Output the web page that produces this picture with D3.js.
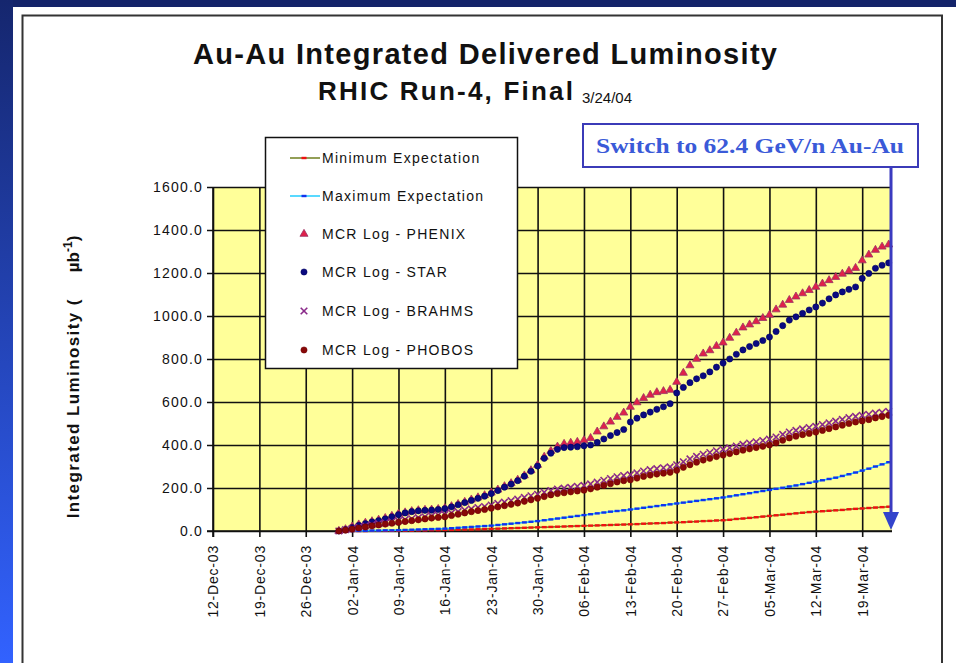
<!DOCTYPE html>
<html>
<head>
<meta charset="utf-8">
<script src="https://cdn.jsdelivr.net/npm/d3@7"></script>
<style>
body { margin: 0; overflow: hidden; background: #fff; }
text { font-family: "Liberation Sans", Arial, sans-serif; }
</style>
</head>
<body>
<div id="chart"></div>
<script>
// chart data, one value per day starting 31-Dec-03
var firstDay = "2003-12-31";
var tickDates = ["2003-12-12", "2003-12-19", "2003-12-26", "2004-01-02", "2004-01-09", "2004-01-16",
    "2004-01-23", "2004-01-30", "2004-02-06", "2004-02-13", "2004-02-20", "2004-02-27",
    "2004-03-05", "2004-03-12", "2004-03-19"];
var yTicks = [0, 200, 400, 600, 800, 1000, 1200, 1400, 1600];

var minExpectation = [0, 0, 0, 0, 0, 1, 1, 1, 1, 2, 2, 2, 3, 3, 4, 4, 5, 5, 6, 7,
    7, 8, 9, 10, 11, 12, 13, 14, 15, 16, 17, 18, 19, 20, 21, 22, 23, 24, 25, 26,
    27, 28, 29, 30, 31, 32, 34, 35, 36, 37, 39, 40, 41, 43, 44, 46, 47, 49, 50, 52,
    56, 58, 61, 64, 67, 70, 73, 76, 79, 82, 85, 88, 90, 92, 94, 96, 98, 101, 103, 105,
    107, 109, 111, 113];
var maxExpectation = [0, 0, 0, 1, 1, 2, 2, 3, 3, 4, 5, 6, 7, 8, 9, 10, 11, 13, 15, 17,
    19, 21, 23, 25, 28, 31, 34, 37, 40, 43, 46, 50, 54, 58, 62, 66, 70, 74, 78, 82,
    86, 90, 93, 96, 100, 104, 108, 112, 116, 120, 124, 128, 132, 136, 140, 144, 148, 152, 156, 161,
    166, 171, 176, 181, 186, 191, 196, 201, 207, 212, 218, 224, 230, 236, 242, 248, 256, 264, 272, 281,
    290, 300, 310, 320];
var phenix = [0, 8, 20, 30, 38, 45, 52, 60, 70, 80, 86, 92, 96, 98, 99, 102, 106, 115, 125, 135,
    146, 156, 166, 178, 192, 208, 222, 238, 258, 282, 307, 345, 372, 392, 405, 410, 414, 422, 432, 462,
    486, 508, 530, 550, 577, 598, 618, 633, 645, 650, 656, 693, 735, 770, 800, 825, 840, 860, 876, 898,
    922, 946, 960, 975, 990, 1005, 1030, 1052, 1074, 1090, 1105, 1120, 1135, 1150, 1166, 1181, 1196, 1210, 1223, 1258,
    1285, 1307, 1322, 1332];
var star = [0, 6, 16, 26, 34, 42, 48, 56, 66, 76, 84, 90, 94, 96, 97, 100, 104, 112, 122, 132,
    142, 152, 162, 174, 188, 204, 218, 234, 255, 278, 302, 338, 362, 380, 388, 390, 392, 396, 400, 412,
    428, 444, 458, 472, 507, 525, 540, 553, 566, 578, 592, 642, 668, 690, 708, 722, 740, 762, 781, 800,
    822, 842, 858, 872, 886, 902, 928, 955, 981, 996, 1012, 1028, 1042, 1060, 1080, 1098, 1112, 1124, 1135, 1175,
    1198, 1222, 1236, 1247];
var brahms = [0, 6, 12, 18, 24, 29, 34, 38, 43, 48, 53, 57, 62, 66, 70, 74, 77, 84, 90, 97,
    103, 109, 114, 121, 128, 134, 141, 148, 156, 164, 171, 180, 188, 195, 199, 203, 208, 212, 219, 227,
    236, 244, 252, 258, 262, 270, 279, 285, 290, 294, 298, 308, 322, 335, 347, 357, 365, 373, 380, 387,
    395, 403, 409, 415, 421, 427, 437, 449, 460, 468, 475, 481, 487, 495, 503, 511, 519, 527, 533, 538,
    543, 548, 552, 556];
var phobos = [0, 4, 9, 14, 19, 24, 28, 32, 36, 40, 44, 48, 52, 56, 60, 63, 66, 72, 78, 84,
    90, 95, 100, 106, 112, 118, 124, 130, 138, 145, 152, 160, 168, 174, 178, 182, 186, 190, 196, 204,
    212, 220, 228, 234, 238, 246, 254, 260, 265, 269, 273, 282, 296, 308, 320, 330, 338, 346, 353, 360,
    368, 376, 382, 388, 394, 400, 410, 422, 433, 441, 448, 454, 460, 468, 476, 484, 492, 500, 507, 512,
    518, 526, 532, 538];

var seriesNames = ["Minimum Expectation", "Maximum Expectation", "MCR Log - PHENIX",
    "MCR Log - STAR", "MCR Log - BRAHMS", "MCR Log - PHOBOS"];

var svgWidth = 956;
var svgHeight = 663;
var plot = { left: 213, top: 187, right: 892, bottom: 531 };

var parseDate = d3.timeParse("%Y-%m-%d");
var fmt = d3.timeFormat("%d-%b-%y");

var svg = d3.select("#chart").append("svg")
    .attr("width", svgWidth)
    .attr("height", svgHeight);

// slide background
var defs = svg.append("defs");
var grad = defs.append("linearGradient").attr("id", "side")
    .attr("x1", 0).attr("y1", 0).attr("x2", 0).attr("y2", 1);
grad.append("stop").attr("offset", "0%").attr("stop-color", "#15266e");
grad.append("stop").attr("offset", "100%").attr("stop-color", "#3262ff");

svg.append("rect").attr("width", svgWidth).attr("height", svgHeight).attr("fill", "#14246a");
svg.append("rect").attr("width", 13).attr("height", svgHeight).attr("fill", "url(#side)");
svg.append("rect").attr("x", 13).attr("y", 7).attr("width", svgWidth - 13).attr("height", svgHeight)
    .attr("fill", "#fff");
svg.append("rect").attr("x", 22.5).attr("y", 15.5).attr("width", 919.5).attr("height", 700)
    .attr("fill", "none").attr("stroke", "#333").attr("stroke-width", 2);

// titles
svg.append("text")
    .attr("x", 485).attr("y", 64)
    .attr("text-anchor", "middle")
    .attr("font-size", 29).attr("font-weight", "bold")
    .attr("textLength", 584).attr("lengthAdjust", "spacing")
    .attr("fill", "#111")
    .text("Au-Au Integrated Delivered Luminosity");
svg.append("text")
    .attr("x", 318).attr("y", 100)
    .attr("font-size", 26).attr("font-weight", "bold")
    .attr("textLength", 255).attr("lengthAdjust", "spacing")
    .attr("fill", "#111")
    .text("RHIC Run-4, Final");
svg.append("text")
    .attr("x", 582).attr("y", 103)
    .attr("font-size", 15)
    .attr("fill", "#111")
    .text("3/24/04");

// scales
var xScale = d3.scaleTime()
    .domain([parseDate("2003-12-12"), new Date(2004, 2, 23, 12)])
    .range([plot.left, plot.right]);
var yScale = d3.scaleLinear()
    .domain([0, 1600])
    .range([plot.bottom, plot.top]);

// plot area
svg.append("rect")
    .attr("x", plot.left).attr("y", plot.top)
    .attr("width", plot.right - plot.left).attr("height", plot.bottom - plot.top)
    .attr("fill", "#ffff99");

var tickVals = tickDates.map(parseDate);

// y axis with gridlines
var yAxis = svg.append("g")
    .attr("transform", `translate(${plot.left}, 0)`)
    .call(d3.axisLeft(yScale).tickValues(yTicks).tickFormat(d3.format(".1f"))
        .tickSizeInner(-(plot.right - plot.left)).tickSizeOuter(0).tickPadding(10));
yAxis.select(".domain").remove();
yAxis.selectAll(".tick line").attr("stroke", "#111").attr("stroke-width", 1.6).attr("x1", -6);
yAxis.selectAll(".tick text")
    .attr("font-size", 14).attr("letter-spacing", 1.2).attr("fill", "#111");

// x axis with gridlines
var xAxis = svg.append("g")
    .attr("transform", `translate(0, ${plot.bottom})`)
    .call(d3.axisBottom(xScale).tickValues(tickVals).tickFormat(fmt)
        .tickSizeInner(-(plot.bottom - plot.top)).tickSizeOuter(0));
xAxis.select(".domain").remove();
xAxis.selectAll(".tick line").attr("stroke", "#111").attr("stroke-width", 1.6).attr("y1", 6);
xAxis.selectAll(".tick text")
    .attr("font-size", 14).attr("letter-spacing", 0.8).attr("fill", "#111")
    .attr("text-anchor", "end")
    .attr("dy", "0.35em")
    .attr("transform", "translate(0, 14) rotate(-90)")
    .attr("x", 0).attr("y", 0);

// axis lines
svg.append("line").attr("x1", plot.left).attr("x2", plot.left)
    .attr("y1", plot.top).attr("y2", plot.bottom + 6).attr("stroke", "#111").attr("stroke-width", 1.6);
svg.append("line").attr("x1", plot.left - 6).attr("x2", plot.right)
    .attr("y1", plot.bottom).attr("y2", plot.bottom).attr("stroke", "#111").attr("stroke-width", 1.6);

// y axis title
var yTitle = svg.append("text")
    .attr("transform", "translate(79, 377) rotate(-90)")
    .attr("text-anchor", "middle")
    .attr("font-size", 17).attr("font-weight", "bold").attr("fill", "#111");
yTitle.append("tspan").attr("letter-spacing", 1.4).text("Integrated Luminosity (");
yTitle.append("tspan").attr("dx", 26).text("\u00b5b");
yTitle.append("tspan").attr("dy", -7).attr("font-size", 12).text("-1");
yTitle.append("tspan").attr("dy", 7).text(")");

// series
var start = parseDate(firstDay);
function toPoints(values) {
    return values.map(function(v, i) {
        return { date: d3.timeDay.offset(start, i), value: v };
    });
}
var line = d3.line().x(d => xScale(d.date)).y(d => yScale(d.value));

var series = [
    { name: seriesNames[0], data: toPoints(minExpectation), line: "#6f7f1f", marker: "dash", color: "#ee1111" },
    { name: seriesNames[1], data: toPoints(maxExpectation), line: "#22ccff", marker: "dash", color: "#1133ee" },
    { name: seriesNames[2], data: toPoints(phenix), line: null, marker: "triangle", color: "#e0204a", edge: "#993366" },
    { name: seriesNames[3], data: toPoints(star), line: null, marker: "circle", color: "#0a0a80", edge: "#000060" },
    { name: seriesNames[4], data: toPoints(brahms), line: null, marker: "x", color: "#8a2a8a" },
    { name: seriesNames[5], data: toPoints(phobos), line: null, marker: "circle", color: "#880808", edge: "#700000" }
];

function drawMarker(g, s, x, y) {
    if (s.marker === "dash") {
        g.append("rect").attr("x", x - 2.5).attr("y", y - 1.2).attr("width", 5).attr("height", 2.4)
            .attr("fill", s.color);
    } else if (s.marker === "triangle") {
        g.append("path").attr("d", d3.symbol(d3.symbolTriangle, 28)())
            .attr("transform", `translate(${x}, ${y})`)
            .attr("fill", s.color).attr("stroke", s.edge).attr("stroke-width", 0.8);
    } else if (s.marker === "circle") {
        g.append("circle").attr("cx", x).attr("cy", y).attr("r", 3.1)
            .attr("fill", s.color).attr("stroke", s.edge).attr("stroke-width", 0.6);
    } else if (s.marker === "x") {
        g.append("path").attr("d", d3.symbol(d3.symbolX, 30)())
            .attr("transform", `translate(${x}, ${y})`)
            .attr("fill", "none").attr("stroke", s.color).attr("stroke-width", 1.6);
    }
}

var seriesGroup = svg.append("g");
series.forEach(function(s) {
    var g = seriesGroup.append("g");
    if (s.line) {
        g.append("path").datum(s.data)
            .attr("d", line)
            .attr("fill", "none").attr("stroke", s.line).attr("stroke-width", 1.5);
    }
    s.data.forEach(function(d) {
        drawMarker(g, s, xScale(d.date), yScale(d.value));
    });
});

// legend
var legend = svg.append("g");
legend.append("rect")
    .attr("x", 265.5).attr("y", 137.5).attr("width", 252).attr("height", 231)
    .attr("fill", "#fff").attr("stroke", "#111").attr("stroke-width", 1.5);
var legendY = [158, 196, 234, 272, 311, 350];
series.forEach(function(s, i) {
    var y = legendY[i];
    if (s.line) {
        legend.append("line").attr("x1", 290).attr("x2", 320).attr("y1", y).attr("y2", y)
            .attr("stroke", s.line).attr("stroke-width", 1.5);
    }
    drawMarker(legend, s, 304, y);
    legend.append("text")
        .attr("x", 322).attr("y", y + 5)
        .attr("font-size", 14).attr("letter-spacing", 1.3).attr("fill", "#111")
        .text(s.name);
});

// annotation: switch to 62.4 GeV
var ann = svg.append("g");
ann.append("rect")
    .attr("x", 583).attr("y", 124).attr("width", 335).attr("height", 43)
    .attr("fill", "#fff").attr("stroke", "#3b3bb8").attr("stroke-width", 2);
ann.append("text")
    .attr("x", 750).attr("y", 153)
    .attr("text-anchor", "middle")
    .style("font-family", "'Liberation Serif', 'DejaVu Serif', serif")
    .attr("font-size", 21).attr("font-weight", "bold")
    .attr("textLength", 308).attr("lengthAdjust", "spacingAndGlyphs")
    .attr("fill", "#3a5ad8")
    .text("Switch to 62.4 GeV/n Au-Au");
ann.append("line")
    .attr("x1", 891).attr("x2", 891).attr("y1", 167).attr("y2", 516)
    .attr("stroke", "#3b3bc0").attr("stroke-width", 3);
ann.append("path")
    .attr("d", "M883,512 L899,512 L891,530 Z")
    .attr("fill", "#3344cc");
</script>
</body>
</html>
